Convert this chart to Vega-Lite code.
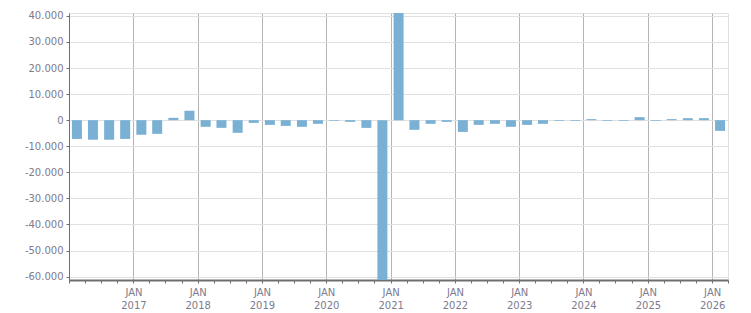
{
  "$schema": "https://vega.github.io/schema/vega-lite/v6.json",
  "width": 659,
  "height": 267,
  "autosize": {"type": "none"},
  "padding": {"left": 69, "top": 13, "right": 23, "bottom": 33},
  "background": "white",
  "config": {
    "locale": {"number": {"decimal": ",", "thousands": ".", "grouping": [3], "currency": ["", " €"], "minus": "-"}},
    "view": {"stroke": "#e0e0e0", "strokeWidth": 1},
    "axis": {"labelFont": "DejaVu Sans", "labelFontSize": 10, "labelColor": "#7d7b8e", "titleFont": "DejaVu Sans"}
  },
  "data": {
    "values": [
      {"date": "2016-02-15", "value": -7200},
      {"date": "2016-05-16", "value": -7500},
      {"date": "2016-08-16", "value": -7500},
      {"date": "2016-11-15", "value": -7200},
      {"date": "2017-02-15", "value": -5600},
      {"date": "2017-05-16", "value": -5250},
      {"date": "2017-08-16", "value": 900},
      {"date": "2017-11-15", "value": 3600},
      {"date": "2018-02-15", "value": -2550},
      {"date": "2018-05-16", "value": -2950},
      {"date": "2018-08-16", "value": -4850},
      {"date": "2018-11-15", "value": -1050},
      {"date": "2019-02-15", "value": -1800},
      {"date": "2019-05-16", "value": -2200},
      {"date": "2019-08-16", "value": -2550},
      {"date": "2019-11-15", "value": -1400},
      {"date": "2020-02-15", "value": -250},
      {"date": "2020-05-16", "value": -650},
      {"date": "2020-08-16", "value": -2950},
      {"date": "2020-11-15", "value": -65000},
      {"date": "2021-02-15", "value": 45000},
      {"date": "2021-05-16", "value": -3700},
      {"date": "2021-08-16", "value": -1400},
      {"date": "2021-11-15", "value": -650},
      {"date": "2022-02-15", "value": -4500},
      {"date": "2022-05-16", "value": -1800},
      {"date": "2022-08-16", "value": -1400},
      {"date": "2022-11-15", "value": -2550},
      {"date": "2023-02-15", "value": -1800},
      {"date": "2023-05-16", "value": -1400},
      {"date": "2023-08-16", "value": -250},
      {"date": "2023-11-15", "value": -250},
      {"date": "2024-02-15", "value": 400},
      {"date": "2024-05-16", "value": -250},
      {"date": "2024-08-16", "value": -250},
      {"date": "2024-11-15", "value": 1150},
      {"date": "2025-02-15", "value": -250},
      {"date": "2025-05-16", "value": 400},
      {"date": "2025-08-16", "value": 750},
      {"date": "2025-11-15", "value": 750},
      {"date": "2026-02-15", "value": -4100}
    ]
  },
  "mark": {"type": "bar", "width": 10, "clip": true, "color": "#79b0d3"},
  "encoding": {
    "x": {
      "field": "date",
      "type": "temporal",
      "scale": {"type": "utc", "padding": 0, "domain": [{"year": 2016, "month": 1, "date": 1, "utc": true}, {"year": 2026, "month": 4, "date": 1, "utc": true}]},
      "axis": {
        "title": null,
        "tickCount": {"interval": "month", "step": 3},
        "labelExpr": "(utcmonth(datum.value) == 0 && utcyear(datum.value) > 2016) ? ['JAN', utcFormat(datum.value, '%Y')] : ''",
        "labelLineHeight": 13,
        "labelPadding": 4,
        "labelAlign": "center",
        "labelOverlap": false,
        "labelFlush": false,
        "domainColor": "#6e6e6e",
        "domainWidth": 2,
        "tickColor": "#6e6e6e",
        "tickSize": 3,
        "grid": true,
        "gridColor": "#b4b4b4",
        "gridWidth": 1,
        "gridOpacity": {"condition": {"test": "utcmonth(datum.value) == 0 && utcyear(datum.value) > 2016", "value": 1}, "value": 0},
        "zindex": 0
      }
    },
    "y": {
      "field": "value",
      "type": "quantitative",
      "scale": {"domain": [-61300, 41100], "nice": false, "zero": false},
      "axis": {
        "title": null,
        "values": [-60000, -50000, -40000, -30000, -20000, -10000, 0, 10000, 20000, 30000, 40000],
        "format": ",.0f",
        "domainColor": "#6e6e6e",
        "domainWidth": 1,
        "tickColor": "#6e6e6e",
        "tickSize": 3,
        "labelPadding": 3,
        "grid": true,
        "gridColor": "#e0e0e0",
        "gridWidth": 1,
        "zindex": 0
      }
    }
  }
}
